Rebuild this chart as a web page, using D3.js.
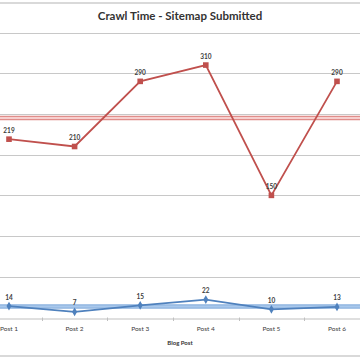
<!DOCTYPE html>
<html><head><meta charset="utf-8">
<script src="https://cdn.jsdelivr.net/npm/d3@7"></script>
<style>body{margin:0;background:#fff}svg{display:block}</style>
</head><body><svg id="c" width="360" height="360"></svg>
<script>
const categories = ["Post 1","Post 2","Post 3","Post 4","Post 5","Post 6"];
const sitemapValues = [219,210,290,310,150,290];
const noSitemapValues = [14,7,15,22,10,13];
const sitemapAvg = 245;
const noSitemapAvg = 13.5;
const yTicks = [0,50,100,150,200,250,300,350];
const titleText = "Crawl Time - Sitemap Submitted";
const xTitle = "Blog Post";

const svg = d3.select("#c");
const font = "Lato, 'Open Sans', sans-serif";
const x = d3.scaleBand().domain(categories).range([-23.8, 369.8]);
const y = d3.scaleLinear().domain([0,350]).range([317.5, 32.5]);
const cx = d => x(d) + x.bandwidth()/2;

// frame lines
svg.append("line").attr("x1",0).attr("x2",360).attr("y1",3).attr("y2",3).attr("stroke","#d9d9d9").attr("stroke-width",2);
svg.append("line").attr("x1",0).attr("x2",360).attr("y1",356).attr("y2",356).attr("stroke","#d9d9d9").attr("stroke-width",2);

// gridlines
svg.append("g").selectAll("line").data(yTicks.slice(1)).join("line")
  .attr("x1",0).attr("x2",360).attr("y1",d=>Math.round(y(d))+0.5).attr("y2",d=>Math.round(y(d))+0.5)
  .attr("stroke","#c8c8c8").attr("stroke-width",1.2);

// x axis
const xAxis = d3.axisBottom(x).tickSize(0).tickPadding(8);
const gx = svg.append("g").attr("transform",`translate(0,${Math.round(y(0))+0.5})`).call(xAxis);
gx.select(".domain").attr("stroke","#c0c0c0").attr("stroke-width",1.2);
gx.selectAll("text").attr("font-family",font).attr("font-size",6.5).attr("fill","#404040");
// tick marks at band boundaries
svg.append("g").selectAll("line").data(categories.slice(1)).join("line")
  .attr("x1",d=>Math.round(x(d))+0.5).attr("x2",d=>Math.round(x(d))+0.5)
  .attr("y1",y(0)).attr("y2",y(0)+3.5).attr("stroke","#c0c0c0").attr("stroke-width",1);

// average bands
function band(v, fill, edge){
  const g = svg.append("g");
  g.append("line").attr("x1",0).attr("x2",360).attr("y1",y(v)).attr("y2",y(v)).attr("stroke",edge).attr("stroke-width",4.5).attr("opacity",0.8);
  g.append("line").attr("x1",0).attr("x2",360).attr("y1",y(v)).attr("y2",y(v)).attr("stroke",fill).attr("stroke-width",2);
}
band(sitemapAvg, "#f6cfce", "#d9716e");
band(noSitemapAvg, "#a9c8ec", "#6f9fd8");

const line = d3.line().x((d,i)=>cx(categories[i])).y(d=>y(d));
// red series
svg.append("path").datum(sitemapValues).attr("d",line).attr("fill","none").attr("stroke","#c0504d").attr("stroke-width",1.8);
svg.append("g").selectAll("rect").data(sitemapValues).join("rect")
  .attr("x",(d,i)=>cx(categories[i])-2.8).attr("y",d=>y(d)-2.8).attr("width",5.6).attr("height",5.6).attr("fill","#c0504d");
svg.append("g").selectAll("text").data(sitemapValues).join("text")
  .attr("x",(d,i)=>cx(categories[i])).attr("y",d=>y(d)-6.5).attr("text-anchor","middle")
  .attr("font-family",font).attr("font-size",6.5).attr("font-weight","bold").attr("fill","#404040").text(d=>d);

// blue series
svg.append("path").datum(noSitemapValues).attr("d",line).attr("fill","none").attr("stroke","#4f81bd").attr("stroke-width",1.8);
svg.append("g").selectAll("path.m").data(noSitemapValues).join("path")
  .attr("d",d3.symbol(d3.symbolDiamond,22)).attr("transform",(d,i)=>`translate(${cx(categories[i])},${y(d)})`).attr("fill","#4f81bd");
svg.append("g").selectAll("text").data(noSitemapValues).join("text")
  .attr("x",(d,i)=>cx(categories[i])).attr("y",d=>y(d)-6.5).attr("text-anchor","middle")
  .attr("font-family",font).attr("font-size",6.5).attr("font-weight","bold").attr("fill","#404040").text(d=>d);

// titles
svg.append("text").attr("x",180).attr("y",20).attr("text-anchor","middle").attr("font-family",font)
  .attr("font-size",11.5).attr("font-weight","bold").attr("fill","#333").text(titleText);
svg.append("text").attr("x",180).attr("y",345).attr("text-anchor","middle").attr("font-family",font)
  .attr("font-size",6).attr("font-weight","bold").attr("fill","#333").text(xTitle);
</script></body></html>
